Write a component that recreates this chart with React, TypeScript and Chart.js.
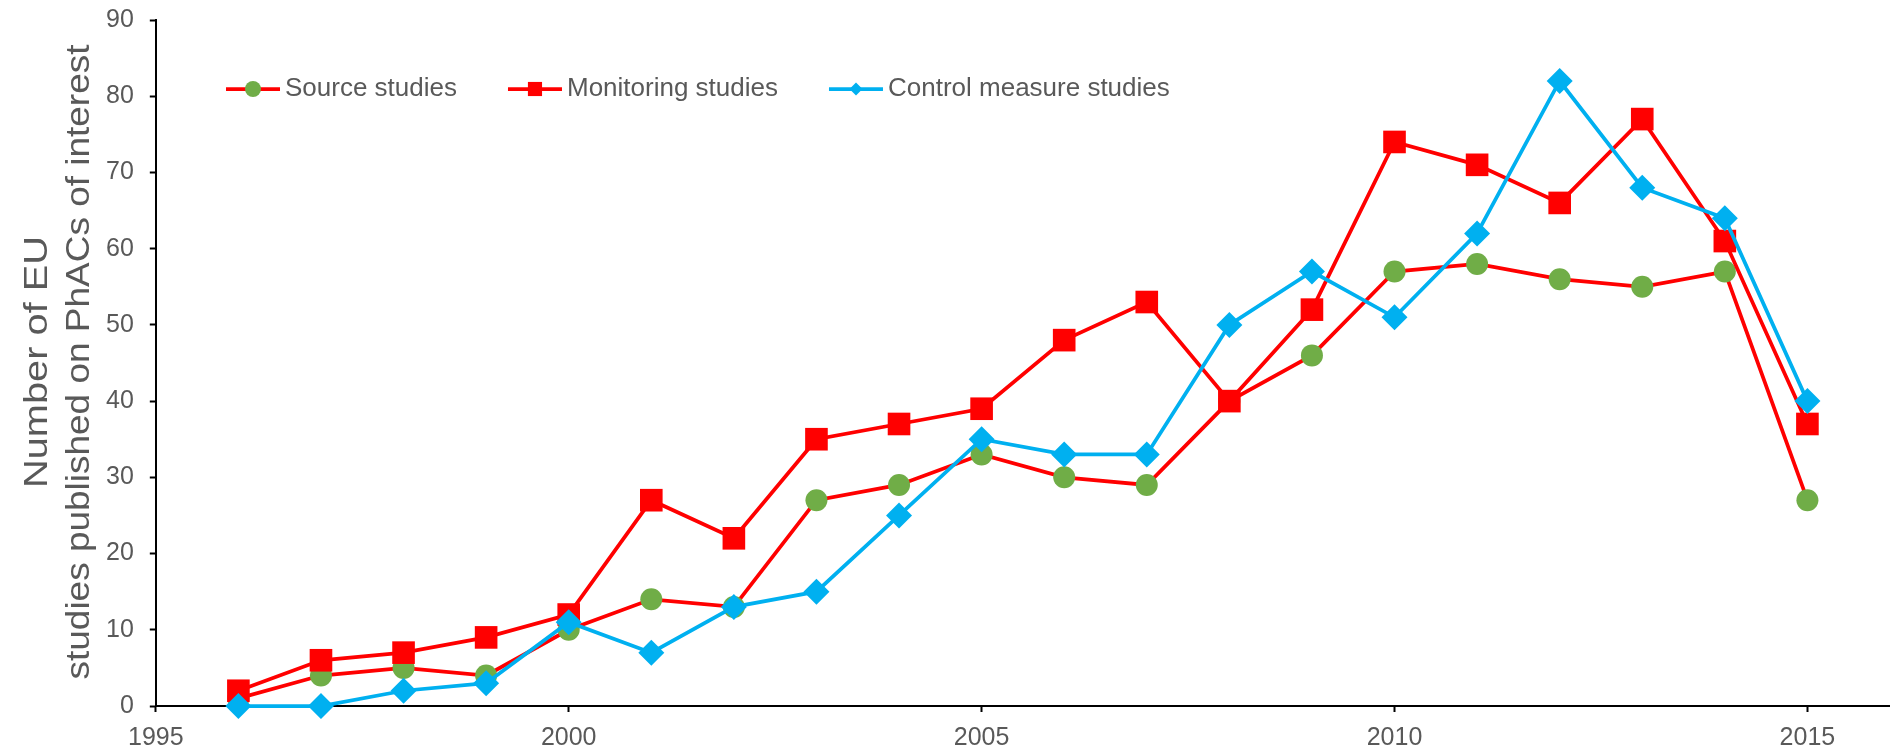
import React, { useEffect, useRef } from "react";
import { Chart, registerables } from "chart.js";
import { drawPoint } from "chart.js/helpers";

Chart.register(...registerables);

const FONT = '"Liberation Sans", Arial, sans-serif';
const TEXT_COLOR = "#595959";

// Publication years and study counts per year
const years = [
  1996, 1997, 1998, 1999, 2000, 2001, 2002, 2003, 2004, 2005,
  2006, 2007, 2008, 2009, 2010, 2011, 2012, 2013, 2014, 2015,
];
const sourceStudies = [1, 4, 5, 4, 10, 14, 13, 27, 29, 33, 30, 29, 40, 46, 57, 58, 56, 55, 57, 27];
const monitoringStudies = [2, 6, 7, 9, 12, 27, 22, 35, 37, 39, 48, 53, 40, 52, 74, 71, 66, 77, 61, 37];
const controlMeasureStudies = [0, 0, 2, 3, 11, 7, 13, 15, 25, 35, 33, 33, 50, 57, 51, 62, 82, 68, 64, 40];

const seriesLabels = ["Source studies", "Monitoring studies", "Control measure studies"];
const xTickValues = [1995, 2000, 2005, 2010, 2015];
const yTitleLines = ["Number of EU", "studies published on PhACs of interest"];

const toPoints = (vals: number[]) => years.map((x, i) => ({ x, y: vals[i] }));

// Legend drawn inside the plot area, near the top-left
const insetLegend = {
  id: "insetLegend",
  afterDraw(chart: any) {
    const ctx = chart.ctx as CanvasRenderingContext2D;
    ctx.save();
    ctx.font = `26px ${FONT}`;
    ctx.textBaseline = "middle";
    ctx.textAlign = "left";
    let x = 226;
    const y = 89;
    chart.data.datasets.forEach((ds: any) => {
      ctx.strokeStyle = ds.borderColor;
      ctx.lineWidth = 3.75;
      ctx.beginPath();
      ctx.moveTo(x, y);
      ctx.lineTo(x + 54, y);
      ctx.stroke();
      ctx.fillStyle = ds.pointBackgroundColor;
      drawPoint(
        ctx,
        { pointStyle: ds.pointStyle, radius: ds.legendRadius, rotation: 0, borderWidth: 0 } as any,
        x + 27,
        y
      );
      ctx.fillStyle = TEXT_COLOR;
      ctx.fillText(ds.label, x + 59, y);
      x += 59 + ctx.measureText(ds.label).width + 51;
    });
    ctx.restore();
  },
};

// Two-line rotated y-axis title, widened along its run to the given lengths
const yAxisTitle = {
  id: "yAxisTitle",
  afterDraw(chart: any) {
    const ctx = chart.ctx as CanvasRenderingContext2D;
    const { top, bottom } = chart.chartArea;
    const cy = (top + bottom) / 2 - 1;
    const baselines = [47, 89];
    const runLengths = [252, 635];
    ctx.save();
    ctx.font = `33px ${FONT}`;
    ctx.fillStyle = TEXT_COLOR;
    ctx.textAlign = "center";
    ctx.textBaseline = "alphabetic";
    yTitleLines.forEach((line, i) => {
      const w = ctx.measureText(line).width;
      ctx.save();
      ctx.translate(baselines[i], cy);
      ctx.rotate(-Math.PI / 2);
      ctx.scale(runLengths[i] / w, 1);
      ctx.fillText(line, 0, 0);
      ctx.restore();
    });
    ctx.restore();
  },
};

export default function App() {
  const canvasRef = useRef<HTMLCanvasElement | null>(null);

  useEffect(() => {
    if (!canvasRef.current) return;
    const axisGrid = {
      display: true,
      drawOnChartArea: false,
      drawTicks: true,
      tickLength: 6,
      tickColor: "#000000",
      tickWidth: 2,
    };
    const axisBorder = { display: true, color: "#000000", width: 2 };
    const tickFont = { family: FONT, size: 25 };

    const chart = new Chart(canvasRef.current, {
      type: "line",
      data: {
        datasets: [
          {
            label: seriesLabels[0],
            data: toPoints(sourceStudies),
            borderColor: "#FF0000",
            backgroundColor: "#70AD47",
            pointBackgroundColor: "#70AD47",
            pointBorderColor: "#70AD47",
            pointStyle: "circle",
            pointRadius: 11,
            pointHoverRadius: 11,
            legendRadius: 8,
            order: 2,
          } as any,
          {
            label: seriesLabels[1],
            data: toPoints(monitoringStudies),
            borderColor: "#FF0000",
            backgroundColor: "#FF0000",
            pointBackgroundColor: "#FF0000",
            pointBorderColor: "#FF0000",
            pointStyle: "rect",
            pointRadius: 16,
            pointHoverRadius: 16,
            legendRadius: 10,
            order: 1,
          } as any,
          {
            label: seriesLabels[2],
            data: toPoints(controlMeasureStudies),
            borderColor: "#00B0F0",
            backgroundColor: "#00B0F0",
            pointBackgroundColor: "#00B0F0",
            pointBorderColor: "#00B0F0",
            pointStyle: "rectRot",
            pointRadius: 13,
            pointHoverRadius: 13,
            legendRadius: 6.5,
            order: 0,
          } as any,
        ],
      },
      options: {
        responsive: false,
        animation: false,
        datasets: {
          line: {
            borderWidth: 3.75,
            tension: 0,
            pointBorderWidth: 0,
            clip: false as any,
            fill: false,
          },
        },
        layout: { autoPadding: false, padding: { left: 90, top: 20, right: 0, bottom: -13 } },
        plugins: {
          legend: { display: false },
          tooltip: { enabled: false },
          title: { display: false },
        },
        scales: {
          x: {
            type: "linear",
            min: 1995,
            max: 2016,
            afterBuildTicks: (scale: any) => {
              scale.ticks = xTickValues.map((value) => ({ value }));
            },
            afterFit: (scale: any) => {
              scale.paddingLeft = 0;
              scale.paddingRight = 0;
            },
            ticks: {
              font: tickFont,
              color: TEXT_COLOR,
              padding: 11,
              maxRotation: 0,
              callback: (v: any) => String(v),
            },
            grid: axisGrid,
            border: axisBorder,
          },
          y: {
            type: "linear",
            min: 0,
            max: 90,
            afterFit: (scale: any) => {
              scale.paddingTop = 0;
              scale.paddingBottom = 0;
            },
            ticks: {
              stepSize: 10,
              font: tickFont,
              color: TEXT_COLOR,
              padding: 16,
              callback: (v: any) => String(v),
            },
            grid: axisGrid,
            border: axisBorder,
          },
        },
      },
      plugins: [insetLegend, yAxisTitle],
    });
    return () => chart.destroy();
  }, []);

  return (
    <div style={{ position: "fixed", left: 0, top: 0, width: 1890, height: 751, background: "#ffffff" }}>
      <canvas ref={canvasRef} width={1890} height={751} />
    </div>
  );
}
